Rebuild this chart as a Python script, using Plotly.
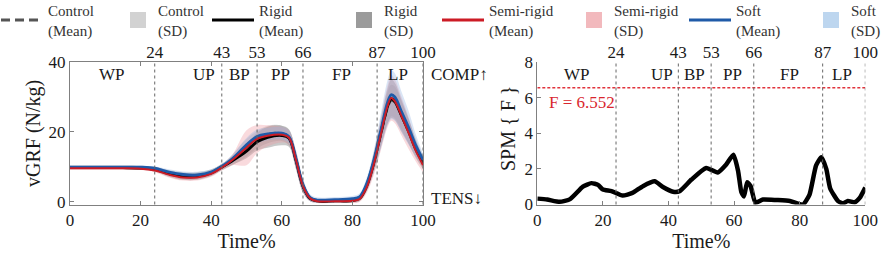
import plotly.graph_objects as go

# ---------------- data ----------------
time_pct = [0, 5, 10, 15, 20, 24, 28, 32, 36, 40, 43, 46, 50, 53, 56, 60, 62, 64, 66, 68,
            70, 75, 80, 82, 84, 86, 88, 90, 91, 92, 94, 96, 98, 100]

control_mean = [9.9, 9.9, 9.9, 9.9, 9.8, 9.4, 8.3, 7.5, 7.5, 8.4, 9.9, 12.0, 15.5, 17.8, 19.3, 19.6, 18.4, 12.0, 4.5, 1.0,
                0.3, 0.3, 0.5, 1.0, 4.5, 11.0, 19.0, 27.0, 29.0, 28.5, 24.5, 20.0, 15.5, 11.5]
rigid_mean = [9.8, 9.8, 9.8, 9.8, 9.7, 9.3, 8.1, 7.3, 7.3, 8.3, 10.0, 11.8, 14.5, 17.2, 18.5, 19.0, 18.3, 12.0, 4.5, 1.0,
              0.3, 0.3, 0.4, 1.0, 4.5, 11.0, 19.5, 27.5, 29.5, 28.8, 24.5, 20.0, 15.0, 11.2]
semi_mean = [9.6, 9.6, 9.6, 9.6, 9.5, 9.0, 7.8, 7.0, 7.0, 8.0, 9.8, 12.0, 15.5, 18.0, 18.9, 19.2, 18.4, 12.0, 4.5, 1.0,
             0.2, 0.2, 0.3, 0.8, 4.0, 10.5, 19.0, 27.5, 29.7, 28.8, 24.3, 19.5, 14.5, 10.5]
soft_mean = [9.9, 9.9, 9.9, 9.9, 9.9, 9.6, 8.5, 7.8, 7.7, 8.5, 10.1, 12.3, 16.3, 18.7, 19.4, 19.6, 18.6, 12.3, 4.8, 1.2,
             0.5, 0.6, 0.9, 1.4, 5.0, 11.5, 20.0, 28.5, 30.6, 30.0, 25.5, 21.0, 16.0, 12.0]

control_sd = [0.5, 0.5, 0.5, 0.5, 0.5, 0.6, 0.8, 1.0, 1.0, 0.9, 0.9, 1.5, 2.5, 2.5, 2.5, 2.2, 2.2, 2.5, 1.8, 0.8,
              0.5, 0.5, 0.6, 0.8, 1.5, 2.5, 3.5, 4.5, 4.5, 4.5, 4.0, 3.5, 2.5, 1.8]
rigid_sd = [0.5, 0.5, 0.5, 0.5, 0.5, 0.6, 0.9, 1.0, 1.0, 0.9, 0.9, 1.2, 2.0, 2.5, 3.0, 2.8, 2.5, 2.5, 1.8, 0.8,
            0.4, 0.4, 0.5, 0.8, 1.5, 2.8, 4.0, 5.0, 5.5, 5.3, 4.5, 3.5, 2.5, 1.8]
semi_sd = [0.4, 0.4, 0.4, 0.4, 0.4, 0.5, 0.8, 0.9, 0.9, 0.8, 0.8, 1.5, 5.0, 4.0, 3.0, 2.2, 2.0, 2.5, 1.8, 0.8,
           0.5, 0.5, 0.6, 0.8, 1.5, 3.0, 4.5, 6.0, 6.5, 6.3, 5.5, 4.5, 3.0, 2.0]
soft_sd = [0.4, 0.4, 0.4, 0.4, 0.4, 0.5, 0.8, 0.9, 0.9, 0.8, 0.8, 1.2, 2.0, 2.0, 1.8, 1.8, 1.8, 2.5, 2.0, 1.0,
           0.8, 0.8, 0.8, 1.0, 1.8, 3.0, 5.0, 6.5, 7.0, 6.8, 5.8, 4.8, 3.2, 1.8]

spm_x = [0, 3, 6.8, 10, 13.9, 16.5, 18.5, 20, 22.6, 26, 29, 32.2, 35.8, 38.3, 41.4, 43.4, 47, 51.5, 55, 57.6,
         59.8, 61.2, 62.2, 63, 64, 65, 66.5, 68.8, 73, 77, 81, 83, 85, 86.6, 88.1, 89.3, 91.7, 93.2, 94.7,
         96.7, 98.3, 100]
spm_f = [0.33, 0.28, 0.15, 0.3, 1.0, 1.2, 1.1, 0.84, 0.75, 0.5, 0.65, 1.03, 1.3, 0.98, 0.72, 0.75, 1.4, 2.05, 1.8, 2.25,
         2.8, 1.9, 0.7, 0.45, 1.25, 1.05, 0.1, 0.28, 0.25, 0.2, 0.0, 0.56, 2.2, 2.65, 2.0, 0.9, 0.19, 0.06, 0.2,
         0.12, 0.37, 0.95]
f_critical = 6.552

phase_bounds = [24, 43, 53, 66, 87, 100]
phase_names = ["WP", "UP", "BP", "PP", "FP", "LP"]
phase_label_x = [12, 38, 48, 59.5, 77, 93]

left_x_ticks = [0, 20, 40, 60, 80, 100]
left_y_ticks = [0, 20, 40]
right_y_ticks = [0, 2, 4, 6, 8]

# ---------------- styling ----------------
FONT = "Liberation Serif"
TXT = "#1a1a1a"
AX = "#808080"
W, H = 886, 255

groups = [
    ("Control", control_mean, control_sd, dict(color="#555555", width=2.5, dash="9px,5px"), "rgba(195,195,195,0.55)", "#d2d2d2"),
    ("Rigid", rigid_mean, rigid_sd, dict(color="#000000", width=3), "rgba(120,120,120,0.40)", "#9b9b9b"),
    ("Semi-rigid", semi_mean, semi_sd, dict(color="#cc1b25", width=2), "rgba(238,150,158,0.35)", "#f2b9bd"),
    ("Soft", soft_mean, soft_sd, dict(color="#1f5aa8", width=3), "rgba(150,180,225,0.35)", "#bdd6ef"),
]

fig = go.Figure()

# SD bands
for name, mean, sd, lstyle, fillc, legc in groups:
    lo = [m - s for m, s in zip(mean, sd)]
    hi = [m + s for m, s in zip(mean, sd)]
    fig.add_trace(go.Scatter(x=time_pct, y=lo, mode="lines", line=dict(width=0, shape="spline"),
                             showlegend=False, hoverinfo="skip", xaxis="x", yaxis="y"))
    fig.add_trace(go.Scatter(x=time_pct, y=hi, mode="lines", line=dict(width=0, shape="spline"),
                             fill="tonexty", fillcolor=fillc, showlegend=False, hoverinfo="skip",
                             xaxis="x", yaxis="y"))

# mean lines (order: control, rigid, soft, semi-rigid on top)
for idx in [0, 1, 3, 2]:
    name, mean, sd, lstyle, fillc, legc = groups[idx]
    ls = dict(lstyle)
    ls["shape"] = "spline"
    fig.add_trace(go.Scatter(x=time_pct, y=mean, mode="lines", line=ls, showlegend=False,
                             xaxis="x", yaxis="y"))

# Legend entries (each in its own legend for placement)
line_starts = [2, 213, 443, 690]
square_starts = [130, 356, 586, 823]
legend_layouts = {}
k = 1
for gi, (name, mean, sd, lstyle, fillc, legc) in enumerate(groups):
    lname = "legend" if k == 1 else f"legend{k}"
    fig.add_trace(go.Scatter(x=[None], y=[None], mode="lines", line=dict(lstyle, width=3),
                             name=f"{name}<br>(Mean)", legend=lname, xaxis="x", yaxis="y"))
    legend_layouts[lname] = dict(x=(line_starts[gi] - 6) / W, itemwidth=42)
    k += 1
    lname = f"legend{k}"
    fig.add_trace(go.Scatter(x=[None], y=[None], mode="markers",
                             marker=dict(symbol="square", size=16, color=legc),
                             name=f"{name}<br>(SD)", legend=lname, xaxis="x", yaxis="y"))
    legend_layouts[lname] = dict(x=(square_starts[gi] - 12) / W, itemwidth=30)
    k += 1

# SPM curve
fig.add_trace(go.Scatter(x=spm_x, y=spm_f, mode="lines",
                         line=dict(color="black", width=4.5, shape="spline", smoothing=0.5),
                         showlegend=False, xaxis="x2", yaxis="y2"))
# critical threshold
fig.add_trace(go.Scatter(x=[0, 100], y=[f_critical, f_critical], mode="lines",
                         line=dict(color="#e0343c", width=1.5, dash="3px,2px"),
                         showlegend=False, xaxis="x2", yaxis="y2"))

# ---------------- layout ----------------
ydom = [1 - 204.5 / H, 1 - 62 / H]
xdom1 = [70 / W, 423 / W]
xdom2 = [537.3 / W, 865.3 / W]
tickfont = dict(family=FONT, size=17, color=TXT)
titlefont = dict(family=FONT, size=20, color=TXT)

common_x = dict(range=[0, 100], tickvals=left_x_ticks, ticks="inside", ticklen=4, tickcolor=AX,
                showline=True, linecolor=AX, linewidth=1, showgrid=False, zeroline=False,
                tickfont=tickfont, automargin=False,
                title=dict(text="Time%", font=titlefont, standoff=2))

shapes = []
annotations = []
for xr, yr in [("x", "y"), ("x2", "y2")]:
    for b in phase_bounds:
        shapes.append(dict(type="line", xref=xr, yref=f"{yr} domain", x0=b, x1=b, y0=0, y1=1,
                           line=dict(color="#666666", width=1, dash="dot")))
    for nm, px in zip(phase_names, phase_label_x):
        annotations.append(dict(text=nm, xref=xr, yref=f"{yr} domain", x=px, y=0.91,
                                yanchor="middle", xanchor="center",
                                showarrow=False, font=dict(family=FONT, size=17, color=TXT)))

annotations.append(dict(text="COMP↑", xref="x domain", yref="y domain", x=1, y=0.91, xanchor="left",
                        yanchor="middle", xshift=6, showarrow=False,
                        font=dict(family=FONT, size=17, color=TXT)))
annotations.append(dict(text="TENS↓", xref="x domain", yref="y domain", x=1, y=0.045, xanchor="left",
                        yanchor="middle", xshift=6, showarrow=False,
                        font=dict(family=FONT, size=17, color=TXT)))
annotations.append(dict(text=f"F = {f_critical}", xref="x2", yref="y2", x=0, y=f_critical,
                        xanchor="left", yanchor="top", xshift=10, yshift=-3, showarrow=False,
                        font=dict(family=FONT, size=17, color="#d9262e")))
# y-axis titles
annotations.append(dict(text="vGRF (N/kg)", xref="paper", yref="paper", x=33 / W, y=1 - 134 / H,
                        xanchor="center", yanchor="middle", textangle=-90, showarrow=False,
                        font=titlefont))
annotations.append(dict(text="SPM { F }", xref="paper", yref="paper", x=508 / W, y=1 - 129 / H,
                        xanchor="center", yanchor="middle", textangle=-90, showarrow=False,
                        font=titlefont))

layout = dict(
    width=W, height=H, margin=dict(l=0, r=0, t=0, b=0, autoexpand=False),
    paper_bgcolor="white", plot_bgcolor="white",
    font=dict(family=FONT, color=TXT),
    xaxis=dict(common_x, domain=xdom1, anchor="y", mirror="ticks"),
    yaxis=dict(domain=ydom, anchor="x", range=[-0.75, 40], tickvals=left_y_ticks, ticks="inside",
               ticklen=4, tickcolor=AX, showline=True, linecolor=AX, mirror="ticks", showgrid=False,
               zeroline=False, tickfont=tickfont, automargin=False),
    xaxis2=dict(common_x, domain=xdom2, anchor="y2"),
    yaxis2=dict(domain=ydom, anchor="x2", range=[0, 8], tickvals=right_y_ticks, ticks="inside",
                ticklen=4, tickcolor=AX, showline=True, linecolor=AX, showgrid=False, zeroline=False,
                tickfont=tickfont, automargin=False),
    xaxis3=dict(overlaying="x", side="top", anchor="y", range=[0, 100], tickvals=phase_bounds,
                ticks="", showline=False, showgrid=False, zeroline=False, tickfont=tickfont,
                ticklabelstandoff=0, automargin=False),
    xaxis4=dict(overlaying="x2", side="top", anchor="y2", range=[0, 100], tickvals=phase_bounds,
                ticks="", showline=False, showgrid=False, zeroline=False, tickfont=tickfont,
                ticklabelstandoff=0, automargin=False),
    shapes=shapes, annotations=annotations,
)
for lname, cfg in legend_layouts.items():
    layout[lname] = dict(x=cfg["x"], y=1 + 6 / H, xanchor="left", yanchor="top", orientation="h",
                         itemwidth=cfg["itemwidth"], bgcolor="rgba(0,0,0,0)", borderwidth=0,
                         font=dict(family=FONT, size=15, color="#333333"),
                         itemclick=False, itemdoubleclick=False)
fig.update_layout(**layout)

# dummy traces on the top axes so they render
fig.add_trace(go.Scatter(x=[None], y=[None], xaxis="x3", yaxis="y", showlegend=False))
fig.add_trace(go.Scatter(x=[None], y=[None], xaxis="x4", yaxis="y2", showlegend=False))

fig.write_html("out.html", config={"displayModeBar": False},
               post_script="document.body.style.margin='0px';")
